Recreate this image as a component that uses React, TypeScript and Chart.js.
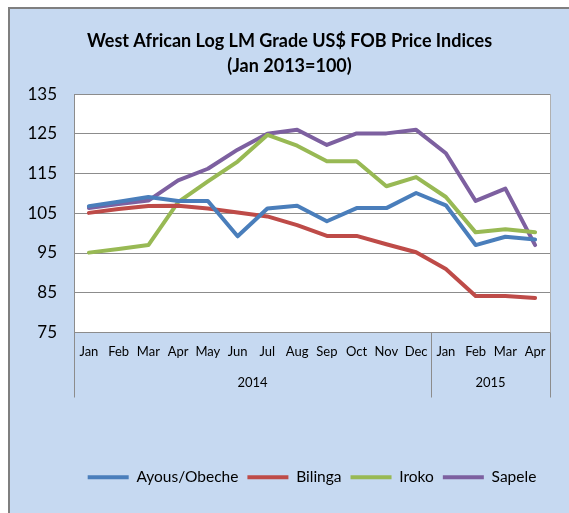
import React, { useEffect, useRef } from "react";
import { Chart, registerables } from "chart.js";
Chart.register(...registerables);

const months = ["Jan", "Feb", "Mar", "Apr", "May", "Jun", "Jul", "Aug", "Sep", "Oct", "Nov", "Dec", "Jan", "Feb", "Mar", "Apr"];
const years = ["2014", "2015"];
const yearSpans = [12, 4];
const yTicks = { min: 75, max: 135, step: 10 };

const ayous = [106.8, 107.9, 109.1, 108.1, 108.1, 99.2, 106.2, 106.9, 103.0, 106.3, 106.3, 110.1, 107.0, 97.0, 99.1, 98.4];
const bilinga = [105.1, 106.1, 106.8, 106.9, 106.2, 105.2, 104.2, 102.0, 99.3, 99.3, 97.2, 95.2, 91.0, 84.2, 84.2, 83.7];
const iroko = [95.1, 96.0, 97.0, 107.8, 113.0, 118.0, 124.7, 122.0, 118.1, 118.1, 111.8, 114.1, 109.1, 100.2, 101.0, 100.2];
const sapele = [106.3, 107.3, 108.2, 113.3, 116.2, 121.0, 125.0, 126.0, 122.2, 125.1, 125.1, 126.0, 120.1, 108.1, 111.2, 97.0];

const seriesNames = ["Ayous/Obeche", "Bilinga", "Iroko", "Sapele"];
const seriesColors = ["#4A7EBB", "#BE4B48", "#98B954", "#7D60A0"];
const titleLines = ["West African Log LM Grade US$ FOB Price Indices", "(Jan 2013=100)"];

const FONT = "Lato, 'Open Sans', sans-serif";

const framePlugin = {
  id: "framePlugin",
  beforeDraw(chart: any) {
    const { ctx, chartArea: a } = chart;
    ctx.save();
    ctx.fillStyle = "#ffffff";
    ctx.fillRect(a.left, a.top, a.right - a.left, a.bottom - a.top);
    ctx.restore();
  },
  afterDraw(chart: any) {
    const { ctx, chartArea: a } = chart;
    const x = chart.scales.x;
    const bounds: number[] = [a.left];
    let idx = 0;
    yearSpans.forEach((n) => {
      idx += n;
      const px = idx >= months.length ? a.right : (x.getPixelForValue(idx - 1) + x.getPixelForValue(idx)) / 2;
      bounds.push(px);
    });
    ctx.save();
    ctx.strokeStyle = "#8c8c8c";
    ctx.lineWidth = 1;
    bounds.forEach((b) => {
      const xx = Math.round(b) + 0.5;
      ctx.beginPath();
      ctx.moveTo(xx, a.bottom);
      ctx.lineTo(xx, a.bottom + 65);
      ctx.stroke();
    });
    ctx.strokeStyle = "#b0b0b0";
    ctx.beginPath();
    ctx.moveTo(Math.round(a.right) + 0.5, a.top);
    ctx.lineTo(Math.round(a.right) + 0.5, a.bottom);
    ctx.stroke();
    ctx.fillStyle = "#000";
    ctx.font = "13px " + FONT;
    ctx.textAlign = "center";
    ctx.textBaseline = "middle";
    years.forEach((y, i) => ctx.fillText(y, (bounds[i] + bounds[i + 1]) / 2, a.bottom + 50));
    ctx.restore();
  },
};

export default function App() {
  const ref = useRef<HTMLCanvasElement | null>(null);
  useEffect(() => {
    if (!ref.current) return;
    const data = [ayous, bilinga, iroko, sapele];
    const chart = new Chart(ref.current, {
      type: "line",
      data: {
        labels: months,
        datasets: seriesNames.map((name, i) => ({
          label: name,
          data: data[i],
          borderColor: seriesColors[i],
          backgroundColor: seriesColors[i],
          borderWidth: 4,
          pointRadius: 0,
          tension: 0,
          borderJoinStyle: "round" as const,
          borderCapStyle: "round" as const,
        })),
      },
      options: {
        responsive: false,
        devicePixelRatio: 1,
        animation: false,
        layout: { padding: { top: 0, right: 0, bottom: 18, left: 0 } },
        plugins: {
          title: {
            display: true,
            text: titleLines,
            color: "#000",
            font: { family: FONT, size: 18, weight: "bold", lineHeight: 1.39 },
            padding: { top: 20, bottom: 15 },
          },
          legend: {
            position: "bottom",
            fullSize: false,
            labels: {
              color: "#000",
              font: { family: FONT, size: 15.5 },
              boxWidth: 41,
              boxHeight: 4,
              padding: 9,
              generateLabels: (c: any) =>
                Chart.defaults.plugins.legend.labels.generateLabels(c).map((l: any) => ({ ...l, lineWidth: 0, fillStyle: l.strokeStyle })),
            },
          },
          tooltip: { enabled: false },
        },
        scales: {
          x: {
            offset: true,
            grid: { display: false, drawTicks: false },
            border: { display: true, color: "#8c8c8c", width: 1 },
            ticks: { color: "#000", font: { family: FONT, size: 13 }, padding: 12, autoSkip: false, maxRotation: 0 },
            afterFit: (s: any) => { s.height = 128; },
          },
          y: {
            min: yTicks.min,
            max: yTicks.max,
            grid: { color: "#8c8c8c", drawTicks: false },
            border: { display: true, color: "#8c8c8c", width: 1 },
            ticks: { stepSize: yTicks.step, color: "#000", font: { family: FONT, size: 17 }, padding: 17 },
            afterFit: (s: any) => { s.width = 64; },
          },
          yRight: {
            position: "right",
            min: yTicks.min,
            max: yTicks.max,
            grid: { display: false, drawOnChartArea: false, drawTicks: false },
            border: { display: false },
            ticks: { display: false },
            afterFit: (s: any) => { s.width = 19; },
          },
        },
      },
      plugins: [framePlugin],
    });
    return () => chart.destroy();
  }, []);
  return (
    <div style={{ position: "fixed", left: 0, top: 0, width: 569, height: 513, background: "#fff", overflow: "hidden" }}>
      <div
        style={{
          position: "absolute",
          left: 8,
          top: 7,
          width: 561,
          height: 506,
          boxSizing: "border-box",
          borderLeft: "2px solid #7f7f7f",
          borderTop: "2px solid #7f7f7f",
          background: "#C6D9F1",
        }}
      />
      <canvas ref={ref} width={559} height={504} style={{ position: "absolute", left: 10, top: 9, width: 559, height: 504 }} />
    </div>
  );
}
